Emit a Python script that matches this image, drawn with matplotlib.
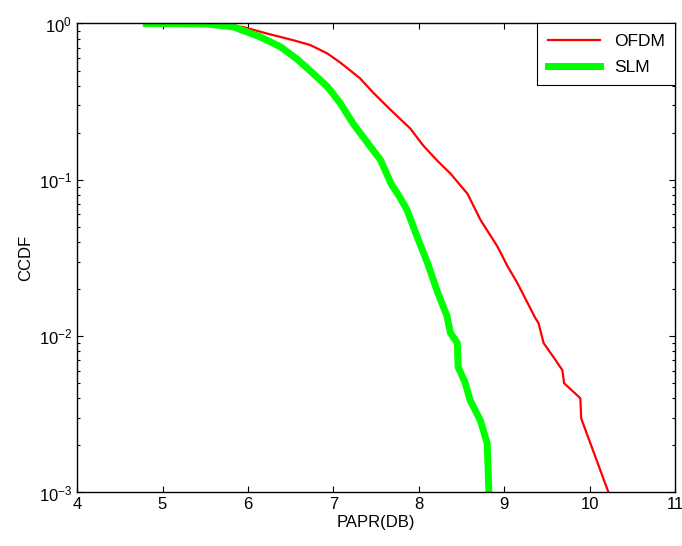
import matplotlib
matplotlib.use("Agg")
import matplotlib.pyplot as plt
import numpy as np

plt.rcParams['font.family'] = ['Liberation Sans', 'DejaVu Sans']
plt.rcParams['mathtext.fontset'] = 'custom'
plt.rcParams['mathtext.rm'] = 'Liberation Sans'

# OFDM curve: PAPR (dB) vs log10(CCDF)
ofdm_papr = [5.3, 5.94, 6.22, 6.53, 6.73, 6.93, 7.08, 7.31, 7.47, 7.67, 7.90, 8.05,
             8.22, 8.37, 8.57, 8.72, 8.92, 9.04, 9.15, 9.27, 9.36, 9.40, 9.46,
             9.60, 9.68, 9.70, 9.89, 9.90, 10.22]
ofdm_logccdf = [0.0, -0.022, -0.064, -0.107, -0.138, -0.192, -0.25, -0.35, -0.445,
                -0.553, -0.672, -0.78, -0.88, -0.96, -1.09, -1.255, -1.427, -1.555,
                -1.657, -1.785, -1.881, -1.916, -2.044, -2.153, -2.218, -2.301,
                -2.397, -2.526, -3.0]

# SLM curve
slm_papr = [4.81, 5.52, 5.83, 6.14, 6.38, 6.58, 6.76, 6.93, 7.08, 7.23, 7.40, 7.55,
            7.68, 7.78, 7.86, 7.98, 8.10, 8.22, 8.33, 8.37, 8.45, 8.46, 8.54,
            8.60, 8.72, 8.80, 8.82]
slm_logccdf = [0.0, -0.003, -0.022, -0.085, -0.149, -0.23, -0.319, -0.404, -0.51,
               -0.64, -0.764, -0.872, -1.03, -1.114, -1.191, -1.364, -1.53, -1.72,
               -1.872, -1.98, -2.044, -2.198, -2.295, -2.410, -2.539, -2.686, -3.0]

fig = plt.figure(figsize=(6.82, 5.46), dpi=100)
ax = fig.add_axes([0.113, 0.098, 0.877, 0.859])

ax.semilogy(ofdm_papr, 10 ** np.array(ofdm_logccdf), color='#ff0000', lw=1.6, label='OFDM')
ax.semilogy(slm_papr, 10 ** np.array(slm_logccdf), color='#00ff00', lw=5, label='SLM')

ax.set_xlim(4, 11)
ax.set_ylim(1e-3, 1)
ax.set_xticks(range(4, 12))
ax.set_xlabel('PAPR(DB)', fontsize=12, labelpad=2)
ax.set_ylabel('CCDF', fontsize=12, labelpad=4)

ax.tick_params(which='both', direction='in', top=True, right=True, labelsize=12)
ax.tick_params(which='major', length=4, width=0.8)
ax.tick_params(which='minor', length=2.5, width=0.8)
for s in ax.spines.values():
    s.set_linewidth(1.0)

leg = ax.legend(loc='upper right', fontsize=12.5, fancybox=False, framealpha=1,
                edgecolor='black', borderaxespad=0, handlelength=3.0,
                labelspacing=0.6, borderpad=0.6)
leg.get_frame().set_linewidth(0.8)

fig.savefig('out.png', dpi=100)
